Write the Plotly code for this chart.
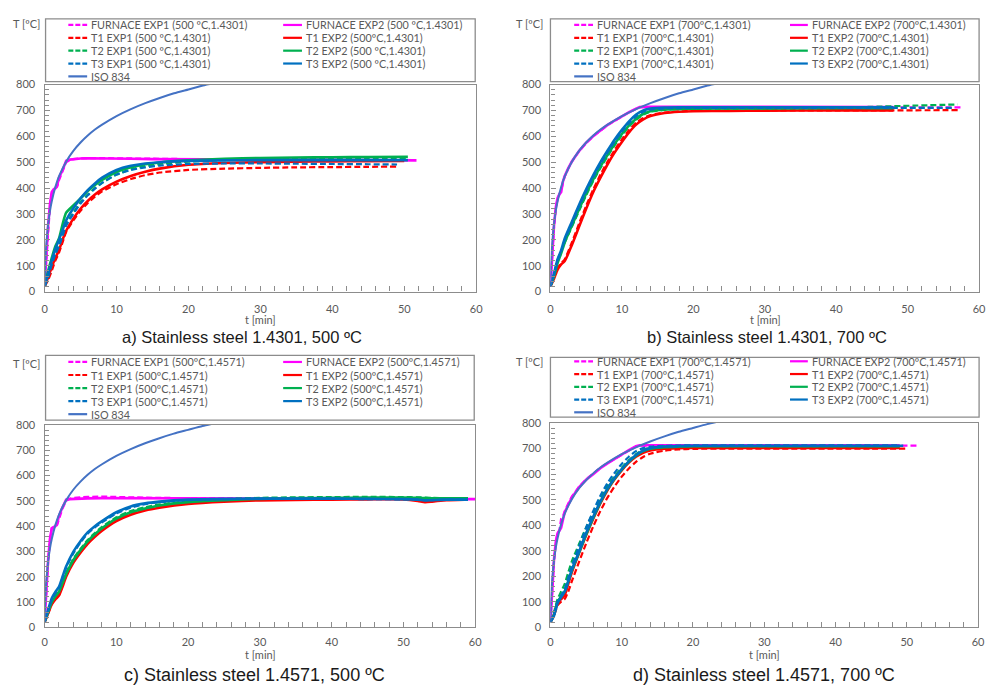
import plotly.graph_objects as go

W, H = 995, 698

# ---------------------------------------------------------------- data
# ISO 834 standard fire curve (time in min, temperature in degC)
ISO_TIME = [0, 0.1, 0.25, 0.5, 0.75, 1, 1.5, 2, 3, 4, 5, 6, 7, 8, 10, 12, 14, 16, 18, 20, 22, 24]
ISO_TEMP = [20, 108, 185, 261, 312, 349, 404, 445, 502, 544, 576, 603, 626, 645, 678, 705, 728, 748, 766, 781, 796, 809]

# a) 1.4301, 500 degC
A_F_TIME = [0, 0.25, 0.5, 0.75, 1, 1.25, 1.5, 1.75, 2, 2.5, 3, 3.5, 4, 5, 6, 8, 10, 12, 15, 20, 25, 30, 35, 40, 45]
A_F_END = [50.0, 51.7]
A_FURN_EXP1 = [20, 130, 240, 330, 380, 392, 398, 405, 430, 465, 500, 508, 512, 515, 516, 516, 515, 514, 513, 512, 511, 510, 510, 509, 508, 507]
A_FURN_EXP2 = [20, 150, 260, 340, 385, 395, 400, 410, 440, 470, 505, 510, 512, 514, 515, 515, 514, 513, 512, 511, 510, 510, 509, 509, 508, 507]
A_TIME = [0, 0.5, 1, 1.5, 2, 2.5, 3, 4, 5, 6, 7, 8, 10, 12, 14, 16, 20, 25, 30, 35, 40, 45]
A_END = [49.0, 50.0, 50.5, 50.5, 49.0, 50.5]
A_T1_EXP1 = [20, 45, 80, 120, 150, 190, 230, 275, 312, 342, 367, 387, 415, 435, 450, 460, 470, 475, 478, 480, 481, 482, 483]
A_T1_EXP2 = [20, 55, 95, 130, 160, 200, 235, 282, 320, 350, 375, 395, 425, 447, 463, 475, 490, 497, 500, 502, 503, 504, 505]
A_T2_EXP1 = [20, 60, 110, 150, 180, 220, 262, 305, 345, 375, 400, 420, 452, 472, 485, 493, 502, 508, 511, 513, 514, 515, 516]
A_T2_EXP2 = [20, 80, 130, 175, 205, 260, 305, 333, 360, 388, 412, 432, 462, 480, 492, 499, 507, 513, 516, 518, 519, 520, 521]
A_T3_EXP1 = [20, 55, 105, 145, 175, 215, 255, 300, 340, 372, 398, 420, 452, 470, 480, 487, 493, 495, 495, 494, 493, 492, 491]
A_T3_EXP2 = [20, 70, 120, 165, 200, 238, 275, 322, 360, 392, 418, 440, 470, 486, 495, 500, 505, 507, 508, 508, 508, 508, 508]

# b) 1.4301, 700 degC
B_F_TIME = [0, 0.25, 0.5, 0.75, 1, 1.25, 1.5, 1.75, 2, 2.5, 3, 4, 5, 6, 7, 8, 9, 10, 11, 12, 12.5, 13, 15, 20, 30, 40, 45]
B_F_END = [57.8, 48.0]
B_FURN_EXP1 = [20, 140, 250, 320, 360, 378, 390, 420, 445, 475, 502, 542, 574, 600, 622, 643, 660, 677, 692, 706, 712, 713, 713, 713, 712, 712, 712, 712]
B_FURN_EXP2 = [20, 150, 255, 325, 362, 375, 385, 425, 447, 477, 503, 543, 575, 601, 623, 644, 661, 678, 693, 707, 713, 714, 714, 713, 713, 713, 713, 713]
B_TIME = [0, 0.5, 1, 1.5, 2, 3, 4, 5, 6, 7, 8, 9, 10, 11, 12, 13, 14, 16, 18, 20, 25, 30, 40, 45]
B_END = [57.0, 48.0, 57.0, 48.0, 56.5, 48.0]
B_T1_EXP1 = [20, 55, 90, 110, 125, 190, 262, 332, 395, 452, 502, 548, 588, 624, 652, 671, 682, 692, 696, 698, 699, 700, 700, 700, 701]
B_T1_EXP2 = [20, 50, 85, 105, 118, 180, 250, 320, 385, 440, 492, 538, 578, 615, 645, 665, 678, 690, 695, 697, 698, 699, 700, 700, 700]
B_T2_EXP1 = [20, 65, 120, 155, 190, 250, 312, 372, 428, 478, 523, 566, 604, 638, 664, 684, 695, 702, 705, 706, 707, 708, 710, 714, 723]
B_T2_EXP2 = [20, 60, 110, 148, 190, 255, 318, 378, 433, 483, 528, 571, 609, 642, 668, 687, 697, 704, 706, 707, 708, 708, 709, 709, 709]
B_T3_EXP1 = [20, 65, 120, 155, 198, 262, 328, 388, 443, 493, 538, 581, 618, 651, 678, 695, 703, 708, 709, 710, 710, 710, 710, 710, 710]
B_T3_EXP2 = [20, 70, 125, 160, 205, 270, 335, 395, 450, 500, 545, 588, 625, 658, 684, 700, 707, 711, 712, 712, 712, 712, 712, 712, 712]

# c) 1.4571, 500 degC
C_F_TIME = [0, 0.25, 0.5, 0.75, 1, 1.25, 1.5, 1.75, 2, 2.5, 3, 3.5, 4, 5, 6, 8, 10, 12, 15, 20, 30, 40, 50, 55]
C_F_END = [59.0, 60.0]
C_FURN_EXP1 = [20, 150, 260, 345, 390, 395, 398, 405, 430, 470, 500, 508, 512, 515, 516, 517, 515, 513, 512, 511, 511, 510, 509, 508, 508]
C_FURN_EXP2 = [20, 160, 270, 350, 392, 396, 400, 410, 440, 475, 505, 507, 508, 510, 510, 511, 511, 510, 510, 510, 509, 509, 508, 508, 507]
C_TIME = [0, 0.5, 1, 1.5, 2, 2.5, 3, 4, 5, 6, 7, 8, 10, 12, 14, 16, 20, 25, 30, 35, 40, 45, 50, 52, 53, 54, 56]
C_END = [58.5, 58.5, 59.0, 59.0, 59.0, 59.0]
C_T1_EXP1 = [20, 55, 92, 112, 128, 165, 205, 262, 302, 337, 365, 389, 427, 452, 468, 479, 492, 500, 505, 507, 508, 508, 508, 506, 504, 505, 506, 506]
C_T1_EXP2 = [20, 55, 90, 110, 125, 160, 200, 255, 295, 330, 358, 382, 420, 445, 462, 473, 488, 497, 502, 504, 505, 506, 506, 500, 495, 497, 503, 505]
C_T2_EXP1 = [20, 62, 102, 125, 143, 180, 215, 270, 310, 345, 373, 397, 435, 460, 475, 486, 499, 507, 512, 514, 515, 516, 515, 514, 513, 512, 511, 511]
C_T2_EXP2 = [20, 60, 100, 122, 140, 175, 210, 265, 305, 340, 368, 392, 430, 455, 470, 482, 495, 503, 508, 511, 512, 513, 513, 512, 511, 510, 510, 510]
C_T3_EXP1 = [20, 65, 110, 135, 155, 195, 235, 292, 335, 370, 395, 415, 450, 473, 487, 495, 503, 507, 508, 508, 508, 507, 506, 505, 503, 503, 505, 505]
C_T3_EXP2 = [20, 70, 115, 140, 160, 200, 240, 298, 340, 375, 400, 420, 455, 478, 490, 497, 505, 508, 509, 509, 509, 508, 507, 505, 502, 503, 505, 505]

# d) 1.4571, 700 degC
D_F_TIME = [0, 0.25, 0.5, 0.75, 1, 1.25, 1.5, 1.75, 2, 2.5, 3, 4, 5, 6, 7, 8, 9, 10, 11, 12, 12.5, 13, 15, 20, 30, 40]
D_F_END = [51.5, 49.0]
D_FURN_EXP1 = [20, 150, 260, 330, 370, 380, 425, 435, 455, 485, 512, 550, 580, 602, 625, 643, 660, 677, 693, 708, 712, 712, 712, 712, 712, 712, 712]
D_FURN_EXP2 = [20, 160, 265, 335, 368, 378, 390, 420, 450, 480, 508, 548, 578, 600, 623, 642, 660, 678, 694, 709, 713, 713, 713, 713, 713, 713, 713]
D_TIME = [0, 0.5, 1, 1.5, 2, 2.5, 3, 4, 5, 6, 7, 8, 9, 10, 11, 12, 13, 14, 16, 18, 20, 25, 30, 40, 45]
D_END = [50.0, 49.0, 49.0, 49.0, 49.0, 49.5]
D_T1_EXP1 = [20, 45, 85, 100, 110, 140, 180, 255, 328, 395, 455, 508, 552, 590, 622, 648, 667, 680, 692, 697, 699, 700, 700, 700, 700, 700]
D_T1_EXP2 = [20, 50, 95, 110, 125, 170, 215, 290, 360, 425, 485, 537, 580, 615, 645, 668, 684, 693, 700, 702, 703, 703, 703, 703, 703, 703]
D_T2_EXP1 = [20, 60, 110, 140, 170, 215, 258, 325, 390, 450, 505, 553, 592, 625, 655, 678, 695, 703, 708, 709, 710, 710, 710, 710, 710, 710]
D_T2_EXP2 = [20, 50, 100, 120, 140, 180, 222, 292, 362, 428, 488, 540, 582, 618, 648, 672, 690, 700, 706, 708, 709, 709, 709, 709, 709, 709]
D_T3_EXP1 = [20, 50, 100, 125, 150, 195, 240, 315, 390, 455, 515, 565, 605, 640, 668, 690, 702, 708, 711, 712, 713, 713, 713, 713, 713, 713]
D_T3_EXP2 = [20, 45, 95, 118, 140, 180, 225, 295, 368, 433, 492, 543, 585, 620, 650, 675, 692, 702, 708, 710, 711, 711, 711, 711, 711, 711]

# series labels per panel (legend order: column 1 = EXP1 + ISO, column 2 = EXP2)
A_TAGS = ["500 ºC,1.4301", "500 ºC,1.4301", "500 ºC,1.4301", "500ºC,1.4301", "500 ºC,1.4301", "500 ºC,1.4301", "500 ºC,1.4301", "500 ºC,1.4301"]
B_TAGS = ["700ºC,1.4301"] * 8
C_TAGS = ["500ºC,1.4571"] * 8
D_TAGS = ["700ºC,1.4571"] * 8
SERIES_KEYS = ["FURNACE EXP1", "FURNACE EXP2", "T1 EXP1", "T1 EXP2", "T2 EXP1", "T2 EXP2", "T3 EXP1", "T3 EXP2"]
TITLES = ["a) Stainless steel 1.4301, 500 ºC", "b) Stainless steel 1.4301, 700 ºC",
          "c) Stainless steel 1.4571, 500 ºC", "d) Stainless steel 1.4571, 700 ºC"]

# ---------------------------------------------------------------- styles
MAGENTA, RED, GREEN, BLUE, ISO_BLUE = "#FF00FF", "#FF0000", "#00B050", "#0070C0", "#4472C4"
COLORS = [MAGENTA, MAGENTA, RED, RED, GREEN, GREEN, BLUE, BLUE]
DASHED = [True, False, True, False, True, False, True, False]
GREY_TXT = "#595959"
FRAME = "#8c8c8c"
DASH = "6px,3px"


def px(x):
    return x / W


def py(y):
    return 1 - y / H


# panel geometry in pixels
PANELS = [
    dict(plot=(42, 79, 478, 290), box=(43, 12, 477, 76), c1=(66, 85, 87), c2=(283, 302, 304),
         rows=[18.3, 31.4, 44.5, 57.6, 70.7], tlab=(24, 17), xlab=(260, 318), title=(241, 336),
         tsize=16.5, xstand=7),
    dict(plot=(553, 79, 986, 290), box=(553, 12, 986, 76), c1=(577, 596, 598), c2=(795, 813, 815),
         rows=[18.3, 31.4, 44.5, 57.6, 70.7], tlab=(532, 17), xlab=(770, 318), title=(772, 336),
         tsize=16.5, xstand=7),
    dict(plot=(42, 426, 477, 632), box=(43, 355, 476, 421), c1=(66, 85, 87), c2=(283, 302, 304),
         rows=[361.7, 375.0, 388.3, 401.6, 414.9], tlab=(24, 363), xlab=(260, 660), title=(254, 681),
         tsize=18, xstand=4),
    dict(plot=(553, 424, 985, 632), box=(553, 357, 986, 418), c1=(577, 596, 598), c2=(795, 813, 815),
         rows=[361.0, 374.0, 387.0, 400.0, 413.0], tlab=(532, 361), xlab=(769, 660), title=(769, 681),
         tsize=18, xstand=4),
]

PANEL_DATA = [
    (A_F_TIME, A_F_END, [A_FURN_EXP1, A_FURN_EXP2], A_TIME, A_END,
     [A_T1_EXP1, A_T1_EXP2, A_T2_EXP1, A_T2_EXP2, A_T3_EXP1, A_T3_EXP2], A_TAGS),
    (B_F_TIME, B_F_END, [B_FURN_EXP1, B_FURN_EXP2], B_TIME, B_END,
     [B_T1_EXP1, B_T1_EXP2, B_T2_EXP1, B_T2_EXP2, B_T3_EXP1, B_T3_EXP2], B_TAGS),
    (C_F_TIME, C_F_END, [C_FURN_EXP1, C_FURN_EXP2], C_TIME, C_END,
     [C_T1_EXP1, C_T1_EXP2, C_T2_EXP1, C_T2_EXP2, C_T3_EXP1, C_T3_EXP2], C_TAGS),
    (D_F_TIME, D_F_END, [D_FURN_EXP1, D_FURN_EXP2], D_TIME, D_END,
     [D_T1_EXP1, D_T1_EXP2, D_T2_EXP1, D_T2_EXP2, D_T3_EXP1, D_T3_EXP2], D_TAGS),
]

fig = go.Figure()
shapes, annotations = [], []
layout_axes = {}

for i, (geo, pdata) in enumerate(zip(PANELS, PANEL_DATA)):
    n = "" if i == 0 else str(i + 1)
    xa, ya = "x" + n, "y" + n
    f_time, f_end, furn, t_time, t_end, tcs, tags = pdata

    series = []
    for k in range(2):
        tt = f_time + [f_end[k]]
        assert len(tt) == len(furn[k]), (i, k)
        series.append((tt, furn[k], "linear"))
    for k in range(6):
        tt = t_time + [t_end[k]]
        assert len(tt) == len(tcs[k]), (i, k)
        series.append((tt, tcs[k], "spline"))

    for k, (tt, vv, shape) in enumerate(series):
        line = dict(color=COLORS[k], width=2.2 if DASHED[k] else 2.6, shape=shape)
        if shape == "spline":
            line["smoothing"] = 0.6
        if DASHED[k]:
            line["dash"] = DASH
        fig.add_trace(go.Scatter(x=tt, y=vv, mode="lines", line=line, xaxis=xa, yaxis=ya,
                                 name=f"{SERIES_KEYS[k]} ({tags[k]})", showlegend=False,
                                 hoverinfo="skip"))
    fig.add_trace(go.Scatter(x=ISO_TIME, y=ISO_TEMP, mode="lines",
                             line=dict(color=ISO_BLUE, width=2.0, shape="spline", smoothing=0.6),
                             xaxis=xa, yaxis=ya, name="ISO 834", showlegend=False, hoverinfo="skip"))

    x0, y0, x1, y1 = geo["plot"]
    tick_font = dict(family="Lato", size=11, color=GREY_TXT)
    layout_axes["xaxis" + n] = dict(
        domain=[px(x0), px(x1)], anchor=ya, range=[0, 60], dtick=10, tick0=0,
        showgrid=False, zeroline=False, showline=True, mirror=True, linecolor=FRAME, linewidth=1.3,
        ticks="inside", ticklen=5, tickcolor=FRAME, tickwidth=1,
        minor=dict(dtick=2, ticks="inside", ticklen=5, tickcolor=FRAME, tickwidth=1),
        tickfont=tick_font, ticklabelstandoff=geo["xstand"], fixedrange=True)
    layout_axes["yaxis" + n] = dict(
        domain=[py(y1), py(y0)], anchor=xa, range=[0, 800], dtick=100, tick0=0,
        showgrid=False, zeroline=False, showline=True, mirror=True, linecolor=FRAME, linewidth=1.3,
        ticks="inside", ticklen=5, tickcolor=FRAME, tickwidth=1,
        minor=dict(dtick=20, ticks="inside", ticklen=4, tickcolor=FRAME, tickwidth=1),
        tickfont=tick_font, ticklabelstandoff=6, fixedrange=True)

    # legend frame
    bx0, by0, bx1, by1 = geo["box"]
    shapes.append(dict(type="rect", xref="paper", yref="paper", x0=px(bx0), x1=px(bx1),
                       y0=py(by1), y1=py(by0), line=dict(color=FRAME, width=1.3)))
    # legend entries: column 1 holds EXP1 series and ISO 834, column 2 the EXP2 series
    col1 = [(f"{SERIES_KEYS[k]} ({tags[k]})", COLORS[k], True) for k in (0, 2, 4, 6)]
    col1.append(("ISO 834", ISO_BLUE, False))
    col2 = [(f"{SERIES_KEYS[k]} ({tags[k]})", COLORS[k], False) for k in (1, 3, 5, 7)]
    for col, (sx0, sx1, tx) in ((col1, geo["c1"]), (col2, geo["c2"])):
        for r, (label, color, dashed) in enumerate(col):
            yy = geo["rows"][r]
            ln = dict(color=color, width=2.2)
            if dashed:
                ln["dash"] = "5px,2px"
            shapes.append(dict(type="line", xref="paper", yref="paper", x0=px(sx0), x1=px(sx1),
                               y0=py(yy), y1=py(yy), line=ln))
            annotations.append(dict(text=label, xref="paper", yref="paper", x=px(tx), y=py(yy),
                                    xanchor="left", yanchor="middle", showarrow=False,
                                    font=dict(family="Lato", size=10.8, color=GREY_TXT)))

    annotations.append(dict(text="T [ºC]", xref="paper", yref="paper", x=px(geo["tlab"][0]),
                            y=py(geo["tlab"][1]), xanchor="center", yanchor="middle", showarrow=False,
                            font=dict(family="Lato", size=11, color=GREY_TXT)))
    annotations.append(dict(text="t [min]", xref="paper", yref="paper", x=px(geo["xlab"][0]),
                            y=py(geo["xlab"][1]), xanchor="center", yanchor="middle", showarrow=False,
                            font=dict(family="Lato", size=11, color=GREY_TXT)))
    annotations.append(dict(text=TITLES[i], xref="paper", yref="paper", x=px(geo["title"][0]),
                            y=py(geo["title"][1]), xanchor="center", yanchor="middle", showarrow=False,
                            font=dict(family="Liberation Sans", size=geo["tsize"], color="#1a1a1a")))

fig.update_layout(
    width=W, height=H, autosize=False,
    margin=dict(l=0, r=0, t=0, b=0, pad=0),
    paper_bgcolor="white", plot_bgcolor="white",
    showlegend=False, shapes=shapes, annotations=annotations,
    **layout_axes,
)

# page without body margin so the figure sits at the top-left corner of the window
PAGE_FIX = ("document.documentElement.style.margin='0';document.body.style.margin='0';"
            "document.body.style.padding='0';document.documentElement.style.overflow='hidden';")

fig.write_html("out.html", include_plotlyjs=True, post_script=PAGE_FIX,
               config=dict(displayModeBar=False, responsive=False))
